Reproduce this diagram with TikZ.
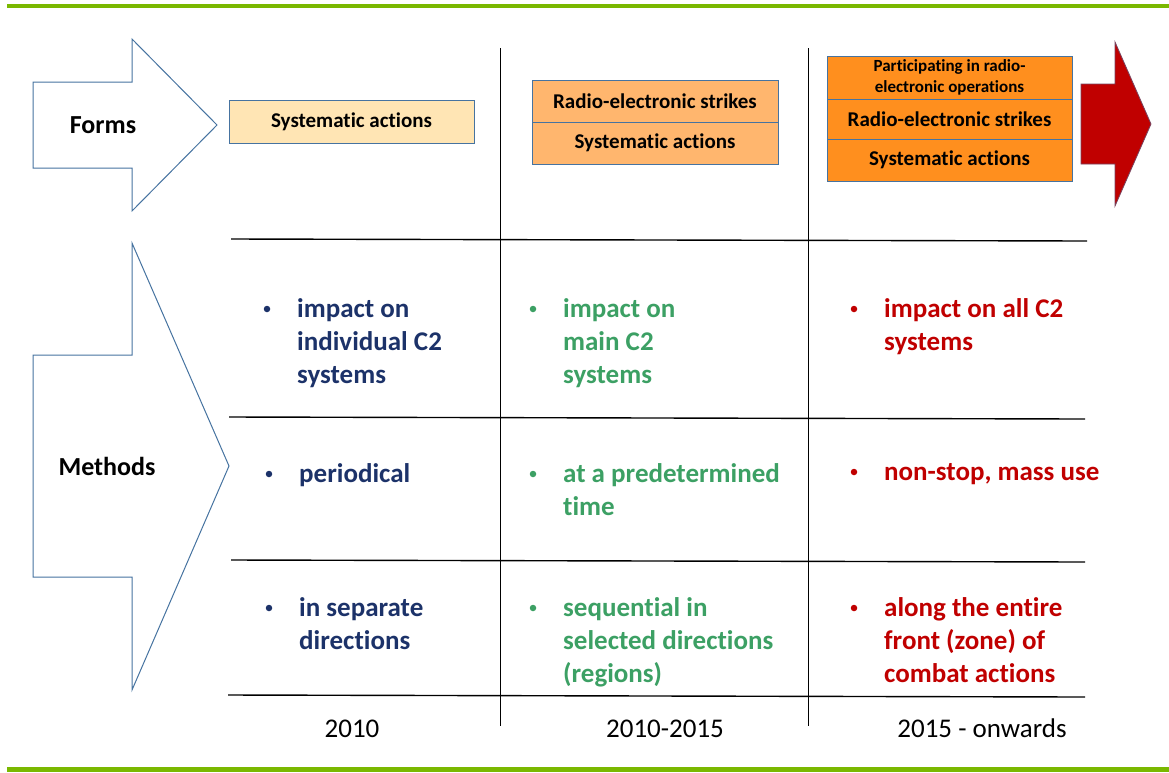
\documentclass[tikz,border=0pt]{standalone}
\usepackage{fontspec}
\setmainfont{Carlito}[Ligatures=NoCommon]
\definecolor{grn}{RGB}{122,184,0}
\definecolor{edge}{RGB}{70,115,160}
\definecolor{navy}{RGB}{28,50,105}
\definecolor{sea}{RGB}{60,160,100}
\definecolor{rd}{RGB}{192,0,0}
\definecolor{pale}{RGB}{255,229,180}
\definecolor{midor}{RGB}{255,182,110}
\definecolor{deepor}{RGB}{255,143,30}
\tikzset{
  bigarrow/.style={draw=edge, line width=1pt, fill=white},
  cellbox/.style={draw=edge, line width=1pt, minimum height=#1, inner sep=0pt, font=\bfseries\fontsize{21}{24}\selectfont},
  grid/.style={draw=black, line width=1.4pt},
  vgrid/.style={draw=black, line width=1pt},
  bul/.style={circle, fill, inner sep=0pt, minimum size=6.5pt},
  item/.style={anchor=base west, inner sep=0pt, font=\bfseries\fontsize{27}{33}\selectfont},
  year/.style={anchor=base, inner sep=0pt, font=\fontsize{27}{30}\selectfont},
  lbl/.style={inner sep=0pt, font=\bfseries\fontsize{26}{30}\selectfont}
}
\newcommand{\itm}[1]{\parbox[t]{260pt}{\raggedright #1}}
\begin{document}
\begin{tikzpicture}[x=1pt,y=-1pt]
\useasboundingbox (0,0) rectangle (1169,772);
% green rules
\draw[grn, line width=4pt] (7,6) -- (1169,6);
\draw[grn, line width=5pt] (7,769) -- (1169,769);
% Forms arrow
\draw[bigarrow] (33,82) -- (132,82) -- (132,39) -- (217,125) -- (132,211) -- (132,168) -- (33,168) -- cycle;
\node[lbl] (forms) at (103,125) {Forms};
% Methods arrow
\draw[bigarrow] (33,355) -- (132,355) -- (132,243) -- (229,466) -- (132,690) -- (132,577) -- (33,577) -- cycle;
\node[lbl] (methods) at (107,466) {Methods};
% red arrow
\draw[draw=edge!60!rd, line width=0.8pt, fill=rd] (1081,84) -- (1115,84) -- (1115,42) -- (1151,124) -- (1115,206) -- (1115,164) -- (1081,164) -- cycle;
% grid
\coordinate (h1a) at (231,239); \coordinate (h1b) at (1087,241);
\coordinate (h2a) at (229,417); \coordinate (h2b) at (1085,419);
\coordinate (h3a) at (231,560); \coordinate (h3b) at (1085,562);
\coordinate (h4a) at (228,695); \coordinate (h4b) at (1085,697);
\draw[grid] (h1a) -- (h1b);
\draw[grid] (h2a) -- (h2b);
\draw[grid] (h3a) -- (h3b);
\draw[grid] (h4a) -- (h4b);
\coordinate (v1a) at (500,48); \coordinate (v1b) at (500,726);
\coordinate (v2a) at (808,48); \coordinate (v2b) at (808,726);
\draw[vgrid] (v1a) -- (v1b);
\draw[vgrid] (v2a) -- (v2b);
% form boxes
\node[cellbox=43pt, fill=pale, minimum width=245pt] (s1) at (351.5,121.5) {Systematic actions};
\node[cellbox=42pt, fill=midor, minimum width=246pt] (r2) at (655,101) {Radio-electronic strikes};
\node[cellbox=42pt, fill=midor, minimum width=246pt] (s2) at (655,143) {Systematic actions};
\node[cellbox=43pt, fill=deepor, minimum width=245pt, align=center, font=\bfseries\fontsize{17}{21}\selectfont] (p3) at (949.5,77.5) {Participating in radio-\\electronic operations};
\node[cellbox=40pt, fill=deepor, minimum width=245pt] (r3) at (949.5,119) {Radio-electronic strikes};
\node[cellbox=42pt, fill=deepor, minimum width=245pt] (s3) at (949.5,160) {Systematic actions};
% column 1
\begin{scope}[navy]
\node[bul] (b11) at (267,309) {};
\node[item] (t11) at (297,317) {\itm{impact on\\individual C2\\systems}};
\node[bul] (b12) at (269,474) {};
\node[item] (t12) at (299,482) {\itm{periodical}};
\node[bul] (b13) at (269,608) {};
\node[item] (t13) at (299,616) {\itm{in separate\\directions}};
\end{scope}
% column 2
\begin{scope}[sea]
\node[bul] (b21) at (533,309) {};
\node[item] (t21) at (563,317) {\itm{impact on\\main C2\\systems}};
\node[bul] (b22) at (533,474) {};
\node[item] (t22) at (563,482) {\itm{at a predetermined\\time}};
\node[bul] (b23) at (533,608) {};
\node[item] (t23) at (563,616) {\itm{sequential in\\selected directions\\(regions)}};
\end{scope}
% column 3
\begin{scope}[rd]
\node[bul] (b31) at (854,309) {};
\node[item] (t31) at (884,317) {\itm{impact on all C2\\systems}};
\node[bul] (b32) at (854,472) {};
\node[item] (t32) at (884,480) {\itm{non-stop, mass use}};
\node[bul] (b33) at (854,608) {};
\node[item] (t33) at (884,616) {\itm{along the entire\\front (zone) of\\combat actions}};
\end{scope}
% years
\node[year] (y1) at (352,737) {2010};
\node[year] (y2) at (665,737) {2010-2015};
\node[year] (y3) at (982,737) {2015 - onwards};
\end{tikzpicture}
\end{document}
